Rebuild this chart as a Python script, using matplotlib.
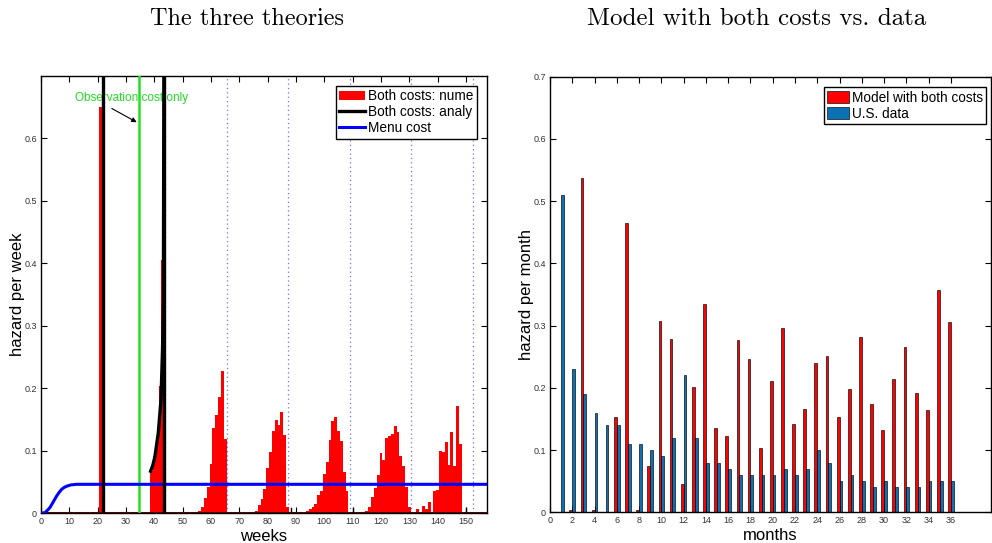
import numpy as np
import matplotlib.pyplot as plt

plt.rcParams['font.family'] = ['Liberation Sans', 'DejaVu Sans']

# ---- left panel data (weeks) ----
num_weeks = [21, 39, 40, 41, 42, 43,
             56, 57, 58, 59, 60, 61, 62, 63, 64, 65,
             75, 76, 77, 78, 79, 80, 81, 82, 83, 84, 85, 86, 87,
             94, 95, 96, 97, 98, 99, 100, 101, 102, 103, 104, 105, 106, 107, 108,
             115, 116, 117, 118, 119, 120, 121, 122, 123, 124, 125, 126, 127, 128, 129, 130,
             133, 135, 136, 137, 139, 140, 141, 142, 143, 144, 145, 146, 147, 148]
num_hazard = [0.65, 0.068, 0.091, 0.124, 0.204, 0.405,
              0.004, 0.01, 0.024, 0.042, 0.079, 0.136, 0.157, 0.186, 0.227, 0.118,
              0.002, 0.004, 0.013, 0.022, 0.039, 0.072, 0.098, 0.132, 0.149, 0.141, 0.162, 0.125, 0.01,
              0.004, 0.006, 0.009, 0.014, 0.029, 0.036, 0.062, 0.081, 0.117, 0.147, 0.154, 0.131, 0.115, 0.065, 0.036,
              0.004, 0.009, 0.025, 0.04, 0.061, 0.096, 0.085, 0.12, 0.124, 0.127, 0.14, 0.13, 0.091, 0.075, 0.042, 0.01,
              0.006, 0.012, 0.006, 0.018, 0.035, 0.037, 0.1, 0.097, 0.114, 0.077, 0.13, 0.076, 0.172, 0.111]

# analytic solution: spike at 22, rising branch ending in spike at 43.4
ana_spike_x = [21.9, 43.4]
ana_curve_x = [38.7, 39.5, 40.2, 41.4, 42.35, 42.9, 43.2, 43.4]
ana_curve_y = [0.067, 0.077, 0.09, 0.128, 0.181, 0.262, 0.342, 0.75]
ana_small_x = [88.3, 110.2, 150.0]
ana_small_y = [0.008, 0.008, 0.008]

menu_x = [0, 1.4, 2.2, 3.2, 4.35, 5.5, 6.4, 7.3, 8.2, 9.1, 10.5, 12.6, 15, 157.4]
menu_y = [0, 0.0005, 0.004, 0.009, 0.018, 0.027, 0.033, 0.038, 0.041, 0.043, 0.045, 0.046, 0.046, 0.046]

obs_only_x = 34.7
month_marks = [21.8, 43.7, 65.5, 87.2, 109.0, 130.7, 152.5]

# ---- right panel data (months) ----
months = np.arange(1, 37)
model = [0.0, 0.004, 0.538, 0.004, 0.0, 0.153, 0.465, 0.003, 0.074, 0.308,
         0.279, 0.046, 0.201, 0.334, 0.135, 0.123, 0.277, 0.246, 0.104, 0.211,
         0.296, 0.142, 0.166, 0.240, 0.252, 0.153, 0.198, 0.282, 0.174, 0.132,
         0.215, 0.265, 0.192, 0.164, 0.357, 0.306]
usdata = [0.51, 0.23, 0.19, 0.16, 0.14, 0.14, 0.11, 0.11, 0.10, 0.09,
          0.12, 0.22, 0.12, 0.08, 0.08, 0.07, 0.06, 0.06, 0.06, 0.06,
          0.07, 0.06, 0.07, 0.10, 0.08, 0.05, 0.06, 0.05, 0.04, 0.05,
          0.04, 0.04, 0.04, 0.05, 0.05, 0.05]

fig = plt.figure(figsize=(9.92, 5.43), dpi=100)

def style(ax):
    ax.tick_params(direction='in', top=True, right=True, length=4, width=0.8,
                   labelsize=6.5, labelcolor='#333333', pad=3)
    for s in ax.spines.values():
        s.set_linewidth(1.0)
    ax.xaxis.set_label_coords(0.5, -0.036)
    ax.yaxis.set_label_coords(-0.036, 0.5)

# left panel
ax1 = fig.add_axes([0.0413, 0.0552, 0.4496, 0.8048])
for m in month_marks:
    ax1.axvline(m, color='#7070ff', ls=(0, (1, 2.5)), lw=0.9, zorder=1)
h_num = ax1.bar(num_weeks, num_hazard, width=1.0, color='#ff0000', lw=0,
                label='Both costs: nume', zorder=2)
ax1.axhline(0, color='#660000', lw=2.2, zorder=2.5)
h_ana, = ax1.plot(ana_curve_x, ana_curve_y, color='k', lw=2.4, zorder=4,
                  label='Both costs: analy')
for xs in ana_spike_x:
    ax1.plot([xs, xs], [0, 0.75], color='k', lw=2.4, zorder=4)
for xs, ys in zip(ana_small_x, ana_small_y):
    ax1.plot([xs, xs], [0, ys], color='k', lw=1.0, zorder=4)
ax1.axvline(obs_only_x, color='#22e022', lw=1.8, zorder=3)
h_menu, = ax1.plot(menu_x, menu_y, color='#0000ff', lw=2.2, zorder=3,
                   label='Menu cost')
ax1.annotate('', xy=(33.8, 0.626), xytext=(25.0, 0.648),
             arrowprops=dict(arrowstyle='-|>', color='k', lw=0.8,
                             mutation_scale=7, shrinkA=0, shrinkB=0))
ax1.text(31.8, 0.665, 'Observation cost only', color='#22dd22', fontsize=8.5,
         ha='center', va='center')
ax1.set_xlim(0, 157.4)
ax1.set_ylim(0, 0.7)
ax1.set_xticks(np.arange(0, 151, 10))
ax1.set_yticks([0, 0.1, 0.2, 0.3, 0.4, 0.5, 0.6])
ax1.set_yticklabels(['0', '0.1', '0.2', '0.3', '0.4', '0.5', '0.6'])
ax1.set_xlabel('weeks', fontsize=12)
ax1.set_ylabel('hazard per week', fontsize=12)
style(ax1)
leg1 = ax1.legend(handles=[h_num, h_ana, h_menu], loc='upper right',
                  bbox_to_anchor=(0.977, 0.978), fontsize=9.8,
                  fancybox=False, edgecolor='k', framealpha=1, borderpad=0.25,
                  handlelength=1.9, handletextpad=0.2, labelspacing=0.15,
                  borderaxespad=0)
leg1.get_frame().set_linewidth(1.0)

# right panel
ax2 = fig.add_axes([0.5544, 0.0565, 0.4446, 0.8022])
ax2.bar(months - 0.125, model, width=0.25, color='#ff0000', edgecolor='k',
        lw=0.45, label='Model with both costs', zorder=2)
ax2.bar(months + 0.125, usdata, width=0.25, color='#0b71b4', edgecolor='k',
        lw=0.45, label='U.S. data', zorder=2)
ax2.set_xlim(0, 39.6)
ax2.set_ylim(0, 0.7)
ax2.set_xticks(np.arange(0, 37, 2))
ax2.set_yticks([0, 0.1, 0.2, 0.3, 0.4, 0.5, 0.6, 0.7])
ax2.set_yticklabels(['0', '0.1', '0.2', '0.3', '0.4', '0.5', '0.6', '0.7'])
ax2.set_xlabel('months', fontsize=12)
ax2.set_ylabel('hazard per month', fontsize=12)
style(ax2)
leg2 = ax2.legend(loc='upper right', bbox_to_anchor=(0.989, 0.976), fontsize=9.8,
                  fancybox=False, edgecolor='k', framealpha=1, borderpad=0.25,
                  handlelength=1.6, handleheight=1.0, handletextpad=0.2,
                  labelspacing=0.15, borderaxespad=0)
leg2.get_frame().set_linewidth(1.0)

fig.text(0.249, 0.966, 'The three theories', family='cmr10', fontsize=17.5,
         ha='center', va='center')
fig.text(0.763, 0.966, 'Model with both costs vs. data', family='cmr10',
         fontsize=18, ha='center', va='center')

fig.savefig('out.png', dpi=100)
